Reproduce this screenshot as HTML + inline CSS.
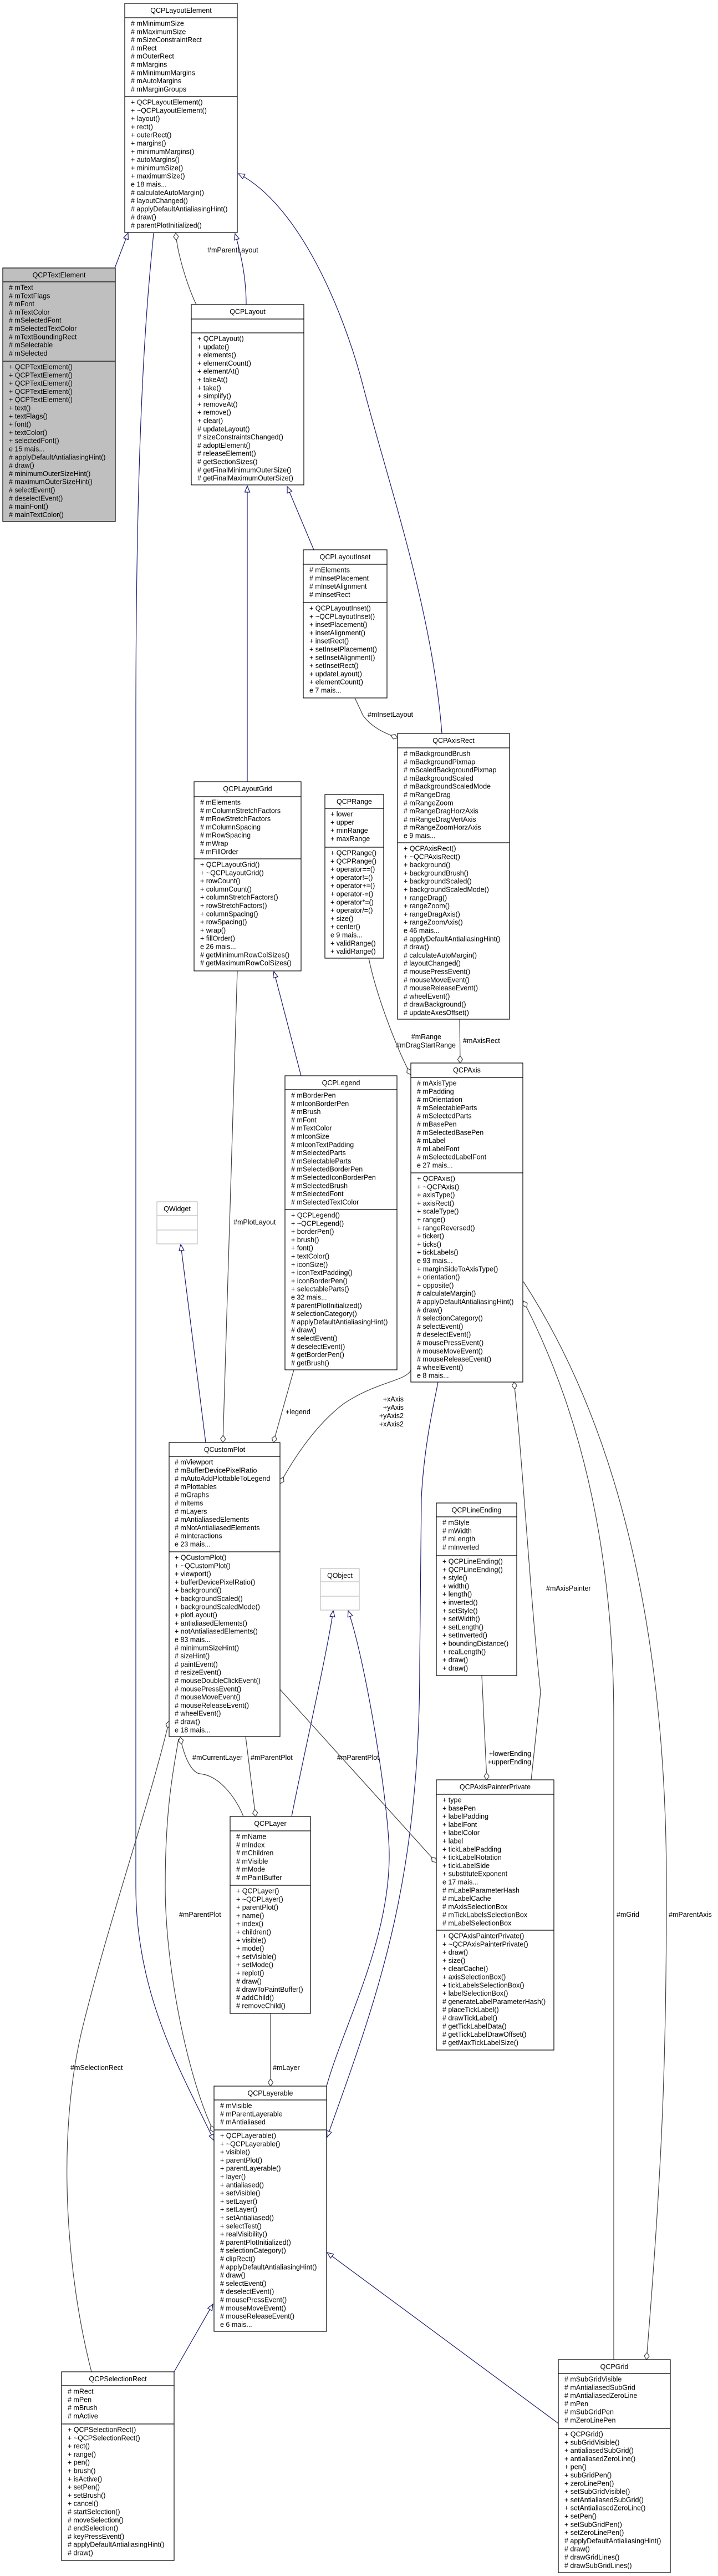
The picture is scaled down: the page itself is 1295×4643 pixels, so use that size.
<!DOCTYPE html>
<html><head><meta charset="utf-8"><style>
html,body{margin:0;padding:0;background:#fff;}
svg{display:block;}
text{font-family:"Liberation Sans",Arial,sans-serif;font-size:12.5px;fill:#000;}
.tt{text-anchor:middle;}
.b{fill:#fff;stroke:#000;stroke-width:1.2;}
.g{fill:#bfbfbf;stroke:#000;stroke-width:1.2;}
.q{fill:#fff;stroke:#bfbfbf;stroke-width:1.2;}
.d{stroke:#000;stroke-width:1.2;}
.dq{stroke:#bfbfbf;stroke-width:1.2;}
.inh{fill:none;stroke:#191970;stroke-width:1.2;marker-start:url(#tri);}
.agg{fill:none;stroke:#404040;stroke-width:1.2;marker-start:url(#dia);}
</style></head><body>
<svg width="1295" height="4643" viewBox="0 0 1295 4643" xmlns="http://www.w3.org/2000/svg">
<defs>
<marker id="tri" markerUnits="userSpaceOnUse" markerWidth="14" markerHeight="12" refX="12" refY="5" orient="auto-start-reverse"><path d="M1,0.5 L12,5 L1,9.5 z" fill="#fff" stroke="#191970" stroke-width="1.2"/></marker>
<marker id="dia" markerUnits="userSpaceOnUse" markerWidth="16" markerHeight="12" refX="14" refY="5" orient="auto-start-reverse"><path d="M1,5 L7.5,0.5 L14,5 L7.5,9.5 z" fill="#fff" stroke="#404040" stroke-width="1.2"/></marker>
</defs>

<!-- edges -->
<path class="inh" d="M231,420 L207,483"/>
<path class="inh" d="M386,3858 C330,3740 245,3600 245,3400 L245,1300 C245,700 270,500 277,420"/>
<path class="inh" d="M424,421 C435,460 444,500 444,549"/>
<path class="inh" d="M430,313 C540,370 620,560 656,700 C700,870 780,1100 797,1322"/>
<path class="inh" d="M446,876 L446,1409"/>
<path class="inh" d="M518,877 L566,991"/>
<path class="inh" d="M494,1751 L543,1939"/>
<path class="inh" d="M326,2243 L371,2600"/>
<path class="inh" d="M601,2903 C590,2980 540,3200 526,3274"/>
<path class="inh" d="M628,2903 C661,3000 702,3258 702,3344 C702,3500 620,3650 589,3760"/>
<path class="inh" d="M590,3852 C680,3600 757,3400 757,3000 L760,2700 C765,2600 785,2520 790,2491"/>
<path class="inh" d="M384,4153 L314,4275"/>
<path class="inh" d="M590,4060 L1007,4368"/>

<path class="agg" d="M317,420 C320,460 340,520 354,549"/>
<path class="agg" d="M717,1330 C690,1320 670,1310 655,1290 L640,1258"/>
<path class="agg" d="M402,2600 L428,1750"/>
<path class="agg" d="M493,2600 L530,2469"/>
<path class="agg" d="M505,2674 C540,2610 580,2560 620,2530 C680,2490 730,2490 741,2470"/>
<path class="agg" d="M741,1937 C720,1900 680,1800 665,1727"/>
<path class="agg" d="M830,1916 L829,1837"/>
<path class="agg" d="M927,2491 C940,2600 958,2900 975,3050 L958,3208"/>
<path class="agg" d="M878,3208 L869,3020"/>
<path class="agg" d="M944,2345 C1050,2550 1107,2800 1107,3100 L1107,4253"/>
<path class="agg" d="M1166,4253 C1195,3900 1202,3700 1202,3400 C1202,2900 1100,2550 944,2310"/>
<path class="agg" d="M461,3274 L443,3130"/>
<path class="agg" d="M325,3131 C335,3180 350,3195 360,3197 C400,3200 430,3250 439,3274"/>
<path class="agg" d="M787,3357 L505,3045"/>
<path class="agg" d="M386,3843 C340,3750 298,3550 298,3400 C298,3250 315,3180 322,3134"/>
<path class="agg" d="M305,3102 C270,3250 200,3450 150,3650 C100,3850 120,4100 165,4275"/>
<path class="agg" d="M488,3760 L488,3629"/>

<!-- edge labels -->
<text x="374" y="455">#mParentLayout</text>
<text x="663" y="1292">#mInsetLayout</text>
<text x="421" y="2207">#mPlotLayout</text>
<text x="515" y="2549">+legend</text>
<text x="728" y="2526" text-anchor="end">+xAxis</text>
<text x="728" y="2541" text-anchor="end">+yAxis</text>
<text x="728" y="2556" text-anchor="end">+yAxis2</text>
<text x="728" y="2571" text-anchor="end">+xAxis2</text>
<text x="796" y="1873" text-anchor="end">#mRange</text>
<text x="822" y="1888" text-anchor="end">#mDragStartRange</text>
<text x="835" y="1880">#mAxisRect</text>
<text x="985" y="2867">#mAxisPainter</text>
<text x="958" y="3165" text-anchor="end">+lowerEnding</text>
<text x="958" y="3180" text-anchor="end">+upperEnding</text>
<text x="1112" y="3455">#mGrid</text>
<text x="1206" y="3455">#mParentAxis</text>
<text x="452" y="3172">#mParentPlot</text>
<text x="347" y="3172">#mCurrentLayer</text>
<text x="608" y="3172">#mParentPlot</text>
<text x="323" y="3455">#mParentPlot</text>
<text x="127" y="3731">#mSelectionRect</text>
<text x="492" y="3731">#mLayer</text>

<!-- QCPLayoutElement -->
<rect class="b" x="225" y="6" width="203" height="413"/>
<line class="d" x1="225" x2="428" y1="32" y2="32"/><line class="d" x1="225" x2="428" y1="174" y2="174"/>
<text class="tt" x="326.5" y="23">QCPLayoutElement</text>
<text y="46.5"><tspan x="236" dy="0"># mMinimumSize</tspan><tspan x="236" dy="14.8"># mMaximumSize</tspan><tspan x="236" dy="14.8"># mSizeConstraintRect</tspan><tspan x="236" dy="14.8"># mRect</tspan><tspan x="236" dy="14.8"># mOuterRect</tspan><tspan x="236" dy="14.8"># mMargins</tspan><tspan x="236" dy="14.8"># mMinimumMargins</tspan><tspan x="236" dy="14.8"># mAutoMargins</tspan><tspan x="236" dy="14.8"># mMarginGroups</tspan></text>
<text y="188.5"><tspan x="236" dy="0">+ QCPLayoutElement()</tspan><tspan x="236" dy="14.8">+ ~QCPLayoutElement()</tspan><tspan x="236" dy="14.8">+ layout()</tspan><tspan x="236" dy="14.8">+ rect()</tspan><tspan x="236" dy="14.8">+ outerRect()</tspan><tspan x="236" dy="14.8">+ margins()</tspan><tspan x="236" dy="14.8">+ minimumMargins()</tspan><tspan x="236" dy="14.8">+ autoMargins()</tspan><tspan x="236" dy="14.8">+ minimumSize()</tspan><tspan x="236" dy="14.8">+ maximumSize()</tspan><tspan x="236" dy="14.8">e 18 mais...</tspan><tspan x="236" dy="14.8"># calculateAutoMargin()</tspan><tspan x="236" dy="14.8"># layoutChanged()</tspan><tspan x="236" dy="14.8"># applyDefaultAntialiasingHint()</tspan><tspan x="236" dy="14.8"># draw()</tspan><tspan x="236" dy="14.8"># parentPlotInitialized()</tspan></text>

<!-- QCPTextElement -->
<rect class="g" x="5" y="483" width="203" height="457"/>
<line class="d" x1="5" x2="208" y1="508" y2="508"/><line class="d" x1="5" x2="208" y1="651" y2="651"/>
<text class="tt" x="106.5" y="500">QCPTextElement</text>
<text y="522.5"><tspan x="16" dy="0"># mText</tspan><tspan x="16" dy="14.8"># mTextFlags</tspan><tspan x="16" dy="14.8"># mFont</tspan><tspan x="16" dy="14.8"># mTextColor</tspan><tspan x="16" dy="14.8"># mSelectedFont</tspan><tspan x="16" dy="14.8"># mSelectedTextColor</tspan><tspan x="16" dy="14.8"># mTextBoundingRect</tspan><tspan x="16" dy="14.8"># mSelectable</tspan><tspan x="16" dy="14.8"># mSelected</tspan></text>
<text y="665.5"><tspan x="16" dy="0">+ QCPTextElement()</tspan><tspan x="16" dy="14.8">+ QCPTextElement()</tspan><tspan x="16" dy="14.8">+ QCPTextElement()</tspan><tspan x="16" dy="14.8">+ QCPTextElement()</tspan><tspan x="16" dy="14.8">+ QCPTextElement()</tspan><tspan x="16" dy="14.8">+ text()</tspan><tspan x="16" dy="14.8">+ textFlags()</tspan><tspan x="16" dy="14.8">+ font()</tspan><tspan x="16" dy="14.8">+ textColor()</tspan><tspan x="16" dy="14.8">+ selectedFont()</tspan><tspan x="16" dy="14.8">e 15 mais...</tspan><tspan x="16" dy="14.8"># applyDefaultAntialiasingHint()</tspan><tspan x="16" dy="14.8"># draw()</tspan><tspan x="16" dy="14.8"># minimumOuterSizeHint()</tspan><tspan x="16" dy="14.8"># maximumOuterSizeHint()</tspan><tspan x="16" dy="14.8"># selectEvent()</tspan><tspan x="16" dy="14.8"># deselectEvent()</tspan><tspan x="16" dy="14.8"># mainFont()</tspan><tspan x="16" dy="14.8"># mainTextColor()</tspan></text>

<!-- QCPLayout -->
<rect class="b" x="345" y="549" width="203" height="325"/>
<line class="d" x1="345" x2="548" y1="575" y2="575"/><line class="d" x1="345" x2="548" y1="600" y2="600"/>
<text class="tt" x="446.5" y="566">QCPLayout</text>
<text y="614.5"><tspan x="356" dy="0">+ QCPLayout()</tspan><tspan x="356" dy="14.8">+ update()</tspan><tspan x="356" dy="14.8">+ elements()</tspan><tspan x="356" dy="14.8">+ elementCount()</tspan><tspan x="356" dy="14.8">+ elementAt()</tspan><tspan x="356" dy="14.8">+ takeAt()</tspan><tspan x="356" dy="14.8">+ take()</tspan><tspan x="356" dy="14.8">+ simplify()</tspan><tspan x="356" dy="14.8">+ removeAt()</tspan><tspan x="356" dy="14.8">+ remove()</tspan><tspan x="356" dy="14.8">+ clear()</tspan><tspan x="356" dy="14.8"># updateLayout()</tspan><tspan x="356" dy="14.8"># sizeConstraintsChanged()</tspan><tspan x="356" dy="14.8"># adoptElement()</tspan><tspan x="356" dy="14.8"># releaseElement()</tspan><tspan x="356" dy="14.8"># getSectionSizes()</tspan><tspan x="356" dy="14.8"># getFinalMinimumOuterSize()</tspan><tspan x="356" dy="14.8"># getFinalMaximumOuterSize()</tspan></text>

<!-- QCPLayoutInset -->
<rect class="b" x="547" y="991" width="151" height="267"/>
<line class="d" x1="547" x2="698" y1="1017" y2="1017"/><line class="d" x1="547" x2="698" y1="1086" y2="1086"/>
<text class="tt" x="622.5" y="1008">QCPLayoutInset</text>
<text y="1031.5"><tspan x="558" dy="0"># mElements</tspan><tspan x="558" dy="14.8"># mInsetPlacement</tspan><tspan x="558" dy="14.8"># mInsetAlignment</tspan><tspan x="558" dy="14.8"># mInsetRect</tspan></text>
<text y="1100.5"><tspan x="558" dy="0">+ QCPLayoutInset()</tspan><tspan x="558" dy="14.8">+ ~QCPLayoutInset()</tspan><tspan x="558" dy="14.8">+ insetPlacement()</tspan><tspan x="558" dy="14.8">+ insetAlignment()</tspan><tspan x="558" dy="14.8">+ insetRect()</tspan><tspan x="558" dy="14.8">+ setInsetPlacement()</tspan><tspan x="558" dy="14.8">+ setInsetAlignment()</tspan><tspan x="558" dy="14.8">+ setInsetRect()</tspan><tspan x="558" dy="14.8">+ updateLayout()</tspan><tspan x="558" dy="14.8">+ elementCount()</tspan><tspan x="558" dy="14.8">e 7 mais...</tspan></text>

<!-- QCPAxisRect -->
<rect class="b" x="717" y="1322" width="202" height="515"/>
<line class="d" x1="717" x2="919" y1="1348" y2="1348"/><line class="d" x1="717" x2="919" y1="1519" y2="1519"/>
<text class="tt" x="818" y="1339">QCPAxisRect</text>
<text y="1362.5"><tspan x="728" dy="0"># mBackgroundBrush</tspan><tspan x="728" dy="14.8"># mBackgroundPixmap</tspan><tspan x="728" dy="14.8"># mScaledBackgroundPixmap</tspan><tspan x="728" dy="14.8"># mBackgroundScaled</tspan><tspan x="728" dy="14.8"># mBackgroundScaledMode</tspan><tspan x="728" dy="14.8"># mRangeDrag</tspan><tspan x="728" dy="14.8"># mRangeZoom</tspan><tspan x="728" dy="14.8"># mRangeDragHorzAxis</tspan><tspan x="728" dy="14.8"># mRangeDragVertAxis</tspan><tspan x="728" dy="14.8"># mRangeZoomHorzAxis</tspan><tspan x="728" dy="14.8">e 9 mais...</tspan></text>
<text y="1533.5"><tspan x="728" dy="0">+ QCPAxisRect()</tspan><tspan x="728" dy="14.8">+ ~QCPAxisRect()</tspan><tspan x="728" dy="14.8">+ background()</tspan><tspan x="728" dy="14.8">+ backgroundBrush()</tspan><tspan x="728" dy="14.8">+ backgroundScaled()</tspan><tspan x="728" dy="14.8">+ backgroundScaledMode()</tspan><tspan x="728" dy="14.8">+ rangeDrag()</tspan><tspan x="728" dy="14.8">+ rangeZoom()</tspan><tspan x="728" dy="14.8">+ rangeDragAxis()</tspan><tspan x="728" dy="14.8">+ rangeZoomAxis()</tspan><tspan x="728" dy="14.8">e 46 mais...</tspan><tspan x="728" dy="14.8"># applyDefaultAntialiasingHint()</tspan><tspan x="728" dy="14.8"># draw()</tspan><tspan x="728" dy="14.8"># calculateAutoMargin()</tspan><tspan x="728" dy="14.8"># layoutChanged()</tspan><tspan x="728" dy="14.8"># mousePressEvent()</tspan><tspan x="728" dy="14.8"># mouseMoveEvent()</tspan><tspan x="728" dy="14.8"># mouseReleaseEvent()</tspan><tspan x="728" dy="14.8"># wheelEvent()</tspan><tspan x="728" dy="14.8"># drawBackground()</tspan><tspan x="728" dy="14.8"># updateAxesOffset()</tspan></text>

<!-- QCPLayoutGrid -->
<rect class="b" x="350" y="1409" width="193" height="341"/>
<line class="d" x1="350" x2="543" y1="1436" y2="1436"/><line class="d" x1="350" x2="543" y1="1548" y2="1548"/>
<text class="tt" x="446.5" y="1426">QCPLayoutGrid</text>
<text y="1450.5"><tspan x="361" dy="0"># mElements</tspan><tspan x="361" dy="14.8"># mColumnStretchFactors</tspan><tspan x="361" dy="14.8"># mRowStretchFactors</tspan><tspan x="361" dy="14.8"># mColumnSpacing</tspan><tspan x="361" dy="14.8"># mRowSpacing</tspan><tspan x="361" dy="14.8"># mWrap</tspan><tspan x="361" dy="14.8"># mFillOrder</tspan></text>
<text y="1562.5"><tspan x="361" dy="0">+ QCPLayoutGrid()</tspan><tspan x="361" dy="14.8">+ ~QCPLayoutGrid()</tspan><tspan x="361" dy="14.8">+ rowCount()</tspan><tspan x="361" dy="14.8">+ columnCount()</tspan><tspan x="361" dy="14.8">+ columnStretchFactors()</tspan><tspan x="361" dy="14.8">+ rowStretchFactors()</tspan><tspan x="361" dy="14.8">+ columnSpacing()</tspan><tspan x="361" dy="14.8">+ rowSpacing()</tspan><tspan x="361" dy="14.8">+ wrap()</tspan><tspan x="361" dy="14.8">+ fillOrder()</tspan><tspan x="361" dy="14.8">e 26 mais...</tspan><tspan x="361" dy="14.8"># getMinimumRowColSizes()</tspan><tspan x="361" dy="14.8"># getMaximumRowColSizes()</tspan></text>

<!-- QCPRange -->
<rect class="b" x="586" y="1432" width="106" height="295"/>
<line class="d" x1="586" x2="692" y1="1457" y2="1457"/><line class="d" x1="586" x2="692" y1="1527" y2="1527"/>
<text class="tt" x="639" y="1449">QCPRange</text>
<text y="1471.5"><tspan x="596" dy="0">+ lower</tspan><tspan x="596" dy="14.8">+ upper</tspan><tspan x="596" dy="14.8">+ minRange</tspan><tspan x="596" dy="14.8">+ maxRange</tspan></text>
<text y="1541.5"><tspan x="596" dy="0">+ QCPRange()</tspan><tspan x="596" dy="14.8">+ QCPRange()</tspan><tspan x="596" dy="14.8">+ operator==()</tspan><tspan x="596" dy="14.8">+ operator!=()</tspan><tspan x="596" dy="14.8">+ operator+=()</tspan><tspan x="596" dy="14.8">+ operator-=()</tspan><tspan x="596" dy="14.8">+ operator*=()</tspan><tspan x="596" dy="14.8">+ operator/=()</tspan><tspan x="596" dy="14.8">+ size()</tspan><tspan x="596" dy="14.8">+ center()</tspan><tspan x="596" dy="14.8">e 9 mais...</tspan><tspan x="596" dy="14.8">+ validRange()</tspan><tspan x="596" dy="14.8">+ validRange()</tspan></text>

<!-- QCPAxis -->
<rect class="b" x="741" y="1916" width="202" height="575"/>
<line class="d" x1="741" x2="943" y1="1942" y2="1942"/><line class="d" x1="741" x2="943" y1="2114" y2="2114"/>
<text class="tt" x="842" y="1933">QCPAxis</text>
<text y="1956.5"><tspan x="752" dy="0"># mAxisType</tspan><tspan x="752" dy="14.8"># mPadding</tspan><tspan x="752" dy="14.8"># mOrientation</tspan><tspan x="752" dy="14.8"># mSelectableParts</tspan><tspan x="752" dy="14.8"># mSelectedParts</tspan><tspan x="752" dy="14.8"># mBasePen</tspan><tspan x="752" dy="14.8"># mSelectedBasePen</tspan><tspan x="752" dy="14.8"># mLabel</tspan><tspan x="752" dy="14.8"># mLabelFont</tspan><tspan x="752" dy="14.8"># mSelectedLabelFont</tspan><tspan x="752" dy="14.8">e 27 mais...</tspan></text>
<text y="2128.5"><tspan x="752" dy="0">+ QCPAxis()</tspan><tspan x="752" dy="14.8">+ ~QCPAxis()</tspan><tspan x="752" dy="14.8">+ axisType()</tspan><tspan x="752" dy="14.8">+ axisRect()</tspan><tspan x="752" dy="14.8">+ scaleType()</tspan><tspan x="752" dy="14.8">+ range()</tspan><tspan x="752" dy="14.8">+ rangeReversed()</tspan><tspan x="752" dy="14.8">+ ticker()</tspan><tspan x="752" dy="14.8">+ ticks()</tspan><tspan x="752" dy="14.8">+ tickLabels()</tspan><tspan x="752" dy="14.8">e 93 mais...</tspan><tspan x="752" dy="14.8">+ marginSideToAxisType()</tspan><tspan x="752" dy="14.8">+ orientation()</tspan><tspan x="752" dy="14.8">+ opposite()</tspan><tspan x="752" dy="14.8"># calculateMargin()</tspan><tspan x="752" dy="14.8"># applyDefaultAntialiasingHint()</tspan><tspan x="752" dy="14.8"># draw()</tspan><tspan x="752" dy="14.8"># selectionCategory()</tspan><tspan x="752" dy="14.8"># selectEvent()</tspan><tspan x="752" dy="14.8"># deselectEvent()</tspan><tspan x="752" dy="14.8"># mousePressEvent()</tspan><tspan x="752" dy="14.8"># mouseMoveEvent()</tspan><tspan x="752" dy="14.8"># mouseReleaseEvent()</tspan><tspan x="752" dy="14.8"># wheelEvent()</tspan><tspan x="752" dy="14.8">e 8 mais...</tspan></text>

<!-- QCPLegend -->
<rect class="b" x="514" y="1939" width="202" height="530"/>
<line class="d" x1="514" x2="716" y1="1964" y2="1964"/><line class="d" x1="514" x2="716" y1="2180" y2="2180"/>
<text class="tt" x="615" y="1956">QCPLegend</text>
<text y="1978.5"><tspan x="525" dy="0"># mBorderPen</tspan><tspan x="525" dy="14.8"># mIconBorderPen</tspan><tspan x="525" dy="14.8"># mBrush</tspan><tspan x="525" dy="14.8"># mFont</tspan><tspan x="525" dy="14.8"># mTextColor</tspan><tspan x="525" dy="14.8"># mIconSize</tspan><tspan x="525" dy="14.8"># mIconTextPadding</tspan><tspan x="525" dy="14.8"># mSelectedParts</tspan><tspan x="525" dy="14.8"># mSelectableParts</tspan><tspan x="525" dy="14.8"># mSelectedBorderPen</tspan><tspan x="525" dy="14.8"># mSelectedIconBorderPen</tspan><tspan x="525" dy="14.8"># mSelectedBrush</tspan><tspan x="525" dy="14.8"># mSelectedFont</tspan><tspan x="525" dy="14.8"># mSelectedTextColor</tspan></text>
<text y="2194.5"><tspan x="525" dy="0">+ QCPLegend()</tspan><tspan x="525" dy="14.8">+ ~QCPLegend()</tspan><tspan x="525" dy="14.8">+ borderPen()</tspan><tspan x="525" dy="14.8">+ brush()</tspan><tspan x="525" dy="14.8">+ font()</tspan><tspan x="525" dy="14.8">+ textColor()</tspan><tspan x="525" dy="14.8">+ iconSize()</tspan><tspan x="525" dy="14.8">+ iconTextPadding()</tspan><tspan x="525" dy="14.8">+ iconBorderPen()</tspan><tspan x="525" dy="14.8">+ selectableParts()</tspan><tspan x="525" dy="14.8">e 32 mais...</tspan><tspan x="525" dy="14.8"># parentPlotInitialized()</tspan><tspan x="525" dy="14.8"># selectionCategory()</tspan><tspan x="525" dy="14.8"># applyDefaultAntialiasingHint()</tspan><tspan x="525" dy="14.8"># draw()</tspan><tspan x="525" dy="14.8"># selectEvent()</tspan><tspan x="525" dy="14.8"># deselectEvent()</tspan><tspan x="525" dy="14.8"># getBorderPen()</tspan><tspan x="525" dy="14.8"># getBrush()</tspan></text>

<!-- QWidget -->
<rect class="q" x="283" y="2166" width="73" height="76"/>
<line class="dq" x1="283" x2="356" y1="2191" y2="2191"/><line class="dq" x1="283" x2="356" y1="2217" y2="2217"/>
<text class="tt" x="319.5" y="2183">QWidget</text>

<!-- QCustomPlot -->
<rect class="b" x="305" y="2600" width="200" height="530"/>
<line class="d" x1="305" x2="505" y1="2625" y2="2625"/><line class="d" x1="305" x2="505" y1="2797" y2="2797"/>
<text class="tt" x="405" y="2617">QCustomPlot</text>
<text y="2639.5"><tspan x="315" dy="0"># mViewport</tspan><tspan x="315" dy="14.8"># mBufferDevicePixelRatio</tspan><tspan x="315" dy="14.8"># mAutoAddPlottableToLegend</tspan><tspan x="315" dy="14.8"># mPlottables</tspan><tspan x="315" dy="14.8"># mGraphs</tspan><tspan x="315" dy="14.8"># mItems</tspan><tspan x="315" dy="14.8"># mLayers</tspan><tspan x="315" dy="14.8"># mAntialiasedElements</tspan><tspan x="315" dy="14.8"># mNotAntialiasedElements</tspan><tspan x="315" dy="14.8"># mInteractions</tspan><tspan x="315" dy="14.8">e 23 mais...</tspan></text>
<text y="2811.5"><tspan x="315" dy="0">+ QCustomPlot()</tspan><tspan x="315" dy="14.8">+ ~QCustomPlot()</tspan><tspan x="315" dy="14.8">+ viewport()</tspan><tspan x="315" dy="14.8">+ bufferDevicePixelRatio()</tspan><tspan x="315" dy="14.8">+ background()</tspan><tspan x="315" dy="14.8">+ backgroundScaled()</tspan><tspan x="315" dy="14.8">+ backgroundScaledMode()</tspan><tspan x="315" dy="14.8">+ plotLayout()</tspan><tspan x="315" dy="14.8">+ antialiasedElements()</tspan><tspan x="315" dy="14.8">+ notAntialiasedElements()</tspan><tspan x="315" dy="14.8">e 83 mais...</tspan><tspan x="315" dy="14.8"># minimumSizeHint()</tspan><tspan x="315" dy="14.8"># sizeHint()</tspan><tspan x="315" dy="14.8"># paintEvent()</tspan><tspan x="315" dy="14.8"># resizeEvent()</tspan><tspan x="315" dy="14.8"># mouseDoubleClickEvent()</tspan><tspan x="315" dy="14.8"># mousePressEvent()</tspan><tspan x="315" dy="14.8"># mouseMoveEvent()</tspan><tspan x="315" dy="14.8"># mouseReleaseEvent()</tspan><tspan x="315" dy="14.8"># wheelEvent()</tspan><tspan x="315" dy="14.8"># draw()</tspan><tspan x="315" dy="14.8">e 18 mais...</tspan></text>

<!-- QCPLineEnding -->
<rect class="b" x="787" y="2709" width="145" height="311"/>
<line class="d" x1="787" x2="932" y1="2734" y2="2734"/><line class="d" x1="787" x2="932" y1="2804" y2="2804"/>
<text class="tt" x="859.5" y="2726">QCPLineEnding</text>
<text y="2748.5"><tspan x="798" dy="0"># mStyle</tspan><tspan x="798" dy="14.8"># mWidth</tspan><tspan x="798" dy="14.8"># mLength</tspan><tspan x="798" dy="14.8"># mInverted</tspan></text>
<text y="2818.5"><tspan x="798" dy="0">+ QCPLineEnding()</tspan><tspan x="798" dy="14.8">+ QCPLineEnding()</tspan><tspan x="798" dy="14.8">+ style()</tspan><tspan x="798" dy="14.8">+ width()</tspan><tspan x="798" dy="14.8">+ length()</tspan><tspan x="798" dy="14.8">+ inverted()</tspan><tspan x="798" dy="14.8">+ setStyle()</tspan><tspan x="798" dy="14.8">+ setWidth()</tspan><tspan x="798" dy="14.8">+ setLength()</tspan><tspan x="798" dy="14.8">+ setInverted()</tspan><tspan x="798" dy="14.8">+ boundingDistance()</tspan><tspan x="798" dy="14.8">+ realLength()</tspan><tspan x="798" dy="14.8">+ draw()</tspan><tspan x="798" dy="14.8">+ draw()</tspan></text>

<!-- QObject -->
<rect class="q" x="578" y="2827" width="70" height="75"/>
<line class="dq" x1="578" x2="648" y1="2851" y2="2851"/><line class="dq" x1="578" x2="648" y1="2877" y2="2877"/>
<text class="tt" x="613" y="2844">QObject</text>

<!-- QCPAxisPainterPrivate -->
<rect class="b" x="787" y="3208" width="212" height="487"/>
<line class="d" x1="787" x2="999" y1="3234" y2="3234"/><line class="d" x1="787" x2="999" y1="3479" y2="3479"/>
<text class="tt" x="893" y="3225">QCPAxisPainterPrivate</text>
<text y="3248.5"><tspan x="798" dy="0">+ type</tspan><tspan x="798" dy="14.8">+ basePen</tspan><tspan x="798" dy="14.8">+ labelPadding</tspan><tspan x="798" dy="14.8">+ labelFont</tspan><tspan x="798" dy="14.8">+ labelColor</tspan><tspan x="798" dy="14.8">+ label</tspan><tspan x="798" dy="14.8">+ tickLabelPadding</tspan><tspan x="798" dy="14.8">+ tickLabelRotation</tspan><tspan x="798" dy="14.8">+ tickLabelSide</tspan><tspan x="798" dy="14.8">+ substituteExponent</tspan><tspan x="798" dy="14.8">e 17 mais...</tspan><tspan x="798" dy="14.8"># mLabelParameterHash</tspan><tspan x="798" dy="14.8"># mLabelCache</tspan><tspan x="798" dy="14.8"># mAxisSelectionBox</tspan><tspan x="798" dy="14.8"># mTickLabelsSelectionBox</tspan><tspan x="798" dy="14.8"># mLabelSelectionBox</tspan></text>
<text y="3493.5"><tspan x="798" dy="0">+ QCPAxisPainterPrivate()</tspan><tspan x="798" dy="14.8">+ ~QCPAxisPainterPrivate()</tspan><tspan x="798" dy="14.8">+ draw()</tspan><tspan x="798" dy="14.8">+ size()</tspan><tspan x="798" dy="14.8">+ clearCache()</tspan><tspan x="798" dy="14.8">+ axisSelectionBox()</tspan><tspan x="798" dy="14.8">+ tickLabelsSelectionBox()</tspan><tspan x="798" dy="14.8">+ labelSelectionBox()</tspan><tspan x="798" dy="14.8"># generateLabelParameterHash()</tspan><tspan x="798" dy="14.8"># placeTickLabel()</tspan><tspan x="798" dy="14.8"># drawTickLabel()</tspan><tspan x="798" dy="14.8"># getTickLabelData()</tspan><tspan x="798" dy="14.8"># getTickLabelDrawOffset()</tspan><tspan x="798" dy="14.8"># getMaxTickLabelSize()</tspan></text>

<!-- QCPLayer -->
<rect class="b" x="415" y="3274" width="145" height="355"/>
<line class="d" x1="415" x2="560" y1="3300" y2="3300"/><line class="d" x1="415" x2="560" y1="3398" y2="3398"/>
<text class="tt" x="487.5" y="3291">QCPLayer</text>
<text y="3314.5"><tspan x="426" dy="0"># mName</tspan><tspan x="426" dy="14.8"># mIndex</tspan><tspan x="426" dy="14.8"># mChildren</tspan><tspan x="426" dy="14.8"># mVisible</tspan><tspan x="426" dy="14.8"># mMode</tspan><tspan x="426" dy="14.8"># mPaintBuffer</tspan></text>
<text y="3412.5"><tspan x="426" dy="0">+ QCPLayer()</tspan><tspan x="426" dy="14.8">+ ~QCPLayer()</tspan><tspan x="426" dy="14.8">+ parentPlot()</tspan><tspan x="426" dy="14.8">+ name()</tspan><tspan x="426" dy="14.8">+ index()</tspan><tspan x="426" dy="14.8">+ children()</tspan><tspan x="426" dy="14.8">+ visible()</tspan><tspan x="426" dy="14.8">+ mode()</tspan><tspan x="426" dy="14.8">+ setVisible()</tspan><tspan x="426" dy="14.8">+ setMode()</tspan><tspan x="426" dy="14.8">+ replot()</tspan><tspan x="426" dy="14.8"># draw()</tspan><tspan x="426" dy="14.8"># drawToPaintBuffer()</tspan><tspan x="426" dy="14.8"># addChild()</tspan><tspan x="426" dy="14.8"># removeChild()</tspan></text>

<!-- QCPLayerable -->
<rect class="b" x="386" y="3760" width="203" height="442"/>
<line class="d" x1="386" x2="589" y1="3785" y2="3785"/><line class="d" x1="386" x2="589" y1="3839" y2="3839"/>
<text class="tt" x="487.5" y="3777">QCPLayerable</text>
<text y="3799.5"><tspan x="397" dy="0"># mVisible</tspan><tspan x="397" dy="14.8"># mParentLayerable</tspan><tspan x="397" dy="14.8"># mAntialiased</tspan></text>
<text y="3853.5"><tspan x="397" dy="0">+ QCPLayerable()</tspan><tspan x="397" dy="14.8">+ ~QCPLayerable()</tspan><tspan x="397" dy="14.8">+ visible()</tspan><tspan x="397" dy="14.8">+ parentPlot()</tspan><tspan x="397" dy="14.8">+ parentLayerable()</tspan><tspan x="397" dy="14.8">+ layer()</tspan><tspan x="397" dy="14.8">+ antialiased()</tspan><tspan x="397" dy="14.8">+ setVisible()</tspan><tspan x="397" dy="14.8">+ setLayer()</tspan><tspan x="397" dy="14.8">+ setLayer()</tspan><tspan x="397" dy="14.8">+ setAntialiased()</tspan><tspan x="397" dy="14.8">+ selectTest()</tspan><tspan x="397" dy="14.8">+ realVisibility()</tspan><tspan x="397" dy="14.8"># parentPlotInitialized()</tspan><tspan x="397" dy="14.8"># selectionCategory()</tspan><tspan x="397" dy="14.8"># clipRect()</tspan><tspan x="397" dy="14.8"># applyDefaultAntialiasingHint()</tspan><tspan x="397" dy="14.8"># draw()</tspan><tspan x="397" dy="14.8"># selectEvent()</tspan><tspan x="397" dy="14.8"># deselectEvent()</tspan><tspan x="397" dy="14.8"># mousePressEvent()</tspan><tspan x="397" dy="14.8"># mouseMoveEvent()</tspan><tspan x="397" dy="14.8"># mouseReleaseEvent()</tspan><tspan x="397" dy="14.8">e 6 mais...</tspan></text>

<!-- QCPSelectionRect -->
<rect class="b" x="111" y="4275" width="203" height="340"/>
<line class="d" x1="111" x2="314" y1="4300" y2="4300"/><line class="d" x1="111" x2="314" y1="4369" y2="4369"/>
<text class="tt" x="212.5" y="4292">QCPSelectionRect</text>
<text y="4314.5"><tspan x="122" dy="0"># mRect</tspan><tspan x="122" dy="14.8"># mPen</tspan><tspan x="122" dy="14.8"># mBrush</tspan><tspan x="122" dy="14.8"># mActive</tspan></text>
<text y="4383.5"><tspan x="122" dy="0">+ QCPSelectionRect()</tspan><tspan x="122" dy="14.8">+ ~QCPSelectionRect()</tspan><tspan x="122" dy="14.8">+ rect()</tspan><tspan x="122" dy="14.8">+ range()</tspan><tspan x="122" dy="14.8">+ pen()</tspan><tspan x="122" dy="14.8">+ brush()</tspan><tspan x="122" dy="14.8">+ isActive()</tspan><tspan x="122" dy="14.8">+ setPen()</tspan><tspan x="122" dy="14.8">+ setBrush()</tspan><tspan x="122" dy="14.8">+ cancel()</tspan><tspan x="122" dy="14.8"># startSelection()</tspan><tspan x="122" dy="14.8"># moveSelection()</tspan><tspan x="122" dy="14.8"># endSelection()</tspan><tspan x="122" dy="14.8"># keyPressEvent()</tspan><tspan x="122" dy="14.8"># applyDefaultAntialiasingHint()</tspan><tspan x="122" dy="14.8"># draw()</tspan></text>

<!-- QCPGrid -->
<rect class="b" x="1007" y="4253" width="202" height="384"/>
<line class="d" x1="1007" x2="1209" y1="4278" y2="4278"/><line class="d" x1="1007" x2="1209" y1="4377" y2="4377"/>
<text class="tt" x="1108" y="4270">QCPGrid</text>
<text y="4292.5"><tspan x="1018" dy="0"># mSubGridVisible</tspan><tspan x="1018" dy="14.8"># mAntialiasedSubGrid</tspan><tspan x="1018" dy="14.8"># mAntialiasedZeroLine</tspan><tspan x="1018" dy="14.8"># mPen</tspan><tspan x="1018" dy="14.8"># mSubGridPen</tspan><tspan x="1018" dy="14.8"># mZeroLinePen</tspan></text>
<text y="4391.5"><tspan x="1018" dy="0">+ QCPGrid()</tspan><tspan x="1018" dy="14.8">+ subGridVisible()</tspan><tspan x="1018" dy="14.8">+ antialiasedSubGrid()</tspan><tspan x="1018" dy="14.8">+ antialiasedZeroLine()</tspan><tspan x="1018" dy="14.8">+ pen()</tspan><tspan x="1018" dy="14.8">+ subGridPen()</tspan><tspan x="1018" dy="14.8">+ zeroLinePen()</tspan><tspan x="1018" dy="14.8">+ setSubGridVisible()</tspan><tspan x="1018" dy="14.8">+ setAntialiasedSubGrid()</tspan><tspan x="1018" dy="14.8">+ setAntialiasedZeroLine()</tspan><tspan x="1018" dy="14.8">+ setPen()</tspan><tspan x="1018" dy="14.8">+ setSubGridPen()</tspan><tspan x="1018" dy="14.8">+ setZeroLinePen()</tspan><tspan x="1018" dy="14.8"># applyDefaultAntialiasingHint()</tspan><tspan x="1018" dy="14.8"># draw()</tspan><tspan x="1018" dy="14.8"># drawGridLines()</tspan><tspan x="1018" dy="14.8"># drawSubGridLines()</tspan></text>
</svg>
</body></html>
